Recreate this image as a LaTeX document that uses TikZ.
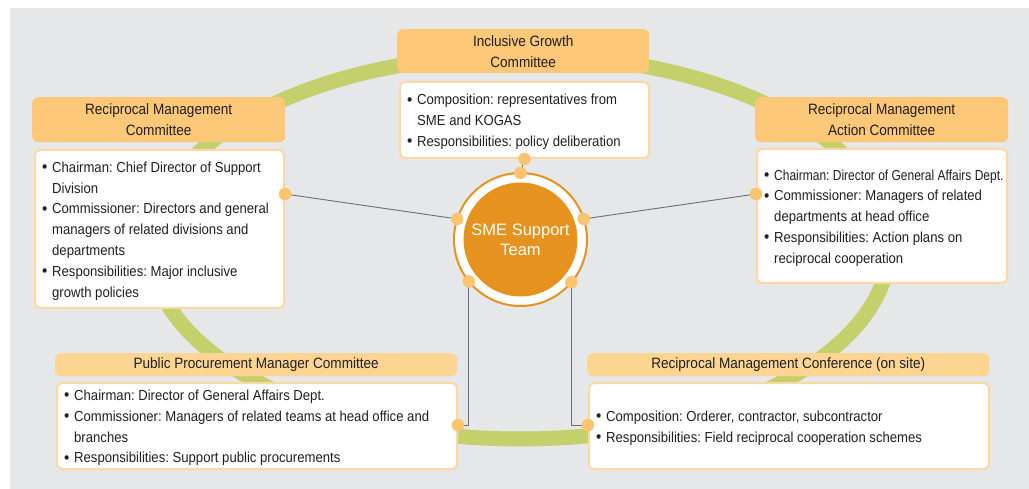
\documentclass[tikz,border=0pt]{standalone}
\usepackage{fontspec}
\usepackage{graphicx}
\setmainfont{Liberation Sans}[FakeStretch=0.905]
\newfontfamily\smefont{Liberation Sans}
\usetikzlibrary{backgrounds}
\definecolor{bggray}{HTML}{E6E7E8}
\definecolor{ringgreen}{HTML}{C4D06C}
\definecolor{hdrtop}{HTML}{FCC878}
\definecolor{hdrbot}{HTML}{FDD592}
\definecolor{bodyline}{HTML}{FDD8A0}
\definecolor{dotfill}{HTML}{FCC46F}
\definecolor{circo}{HTML}{E6921E}
\definecolor{connline}{HTML}{6D6E71}
\definecolor{txt}{HTML}{231F20}
\newcommand\bodyfont{\fontsize{14.5}{20.8}\selectfont\frenchspacing}
\newcommand\hdrfont{\fontsize{15}{21}\selectfont\frenchspacing}
\newcommand\bul{\makebox[10pt][l]{\raisebox{-0.3pt}{\scalebox{1.15}{\textbullet}}}}
\newcommand\ind{\hspace*{10pt}}
\newcommand\tight[1]{\scalebox{0.915}[1]{#1}}
\tikzset{
  hdr/.style={fill=hdrtop, rounded corners=6pt, inner sep=0pt, align=center,
    font=\hdrfont, text=txt, anchor=north west},
  hdrlight/.style={hdr, fill=hdrbot},
  bodybox/.style={draw=bodyline, fill=white, line width=2pt, rounded corners=5pt,
    inner sep=0pt, anchor=north west},
  btext/.style={anchor=west, xshift=8pt, yshift=-2pt, align=left, font=\bodyfont, text=txt, inner sep=0pt},
  dot/.style={circle, fill=dotfill, inner sep=0pt, minimum size=12.5pt},
  conn/.style={draw=connline, line width=0.9pt},
}
\begin{document}
\begin{tikzpicture}[x=1pt,y=-1pt]
\useasboundingbox (0,0) rectangle (1029,489);

% ---- boxes: top
\node[hdr, minimum width=252pt, minimum height=44pt] (th) at (397,29) {Inclusive Growth\\Committee};
\node[bodybox, minimum width=249pt, minimum height=76pt] (tb) at (399,81) {};
\node[btext] (tt) at (tb.west) {\bul Composition: representatives from\\\ind SME and KOGAS\\\bul Responsibilities: policy deliberation};

% ---- left
\node[hdr, minimum width=253pt, minimum height=45pt] (lh) at (32,97) {Reciprocal Management\\Committee};
\node[bodybox, minimum width=249pt, minimum height=158pt] (lb) at (34,149) {};
\node[btext] (lt) at (lb.west) {\bul Chairman: Chief Director of Support\\\ind Division\\\bul Commissioner: Directors and general\\\ind managers of related divisions and\\\ind departments\\\bul Responsibilities: Major inclusive\\\ind growth policies};

% ---- right
\node[hdr, minimum width=253pt, minimum height=45pt] (rh) at (755,97) {Reciprocal Management\\Action Committee};
\node[bodybox, minimum width=250pt, minimum height=134pt] (rb) at (756,148) {};
\node[btext] (rt) at (rb.west) {\bul \tight{Chairman: Director of General Affairs Dept.}\\\bul Commissioner: Managers of related\\\ind departments at head office\\\bul Responsibilities: Action plans on\\\ind reciprocal cooperation};

% ---- bottom left
\node[hdrlight, minimum width=402pt, minimum height=23pt] (blh) at (55,353) {Public Procurement Manager Committee};
\node[bodybox, minimum width=400pt, minimum height=86pt] (blb) at (56,382) {};
\node[btext] (blt) at (blb.west) {\bul Chairman: Director of General Affairs Dept.\\\bul Commissioner: Managers of related teams at head office and\\\ind branches\\\bul Responsibilities: Support public procurements};

% ---- bottom right
\node[hdrlight, minimum width=402pt, minimum height=23pt] (brh) at (587,353) {Reciprocal Management Conference (on site)};
\node[bodybox, minimum width=400pt, minimum height=86pt] (brb) at (588,382) {};
\node[btext] (brt) at (brb.west) {\bul Composition: Orderer, contractor, subcontractor\\\bul Responsibilities: Field reciprocal cooperation schemes};

% ---- centre
\node[circle, fill=white, draw=circo, line width=2pt, minimum size=133pt, inner sep=0pt, outer sep=0pt] (smeo) at (520.5,239.5) {};
\node[circle, fill=circo, minimum size=114pt, inner sep=0pt, text=white, align=center,
  font=\smefont\fontsize{16.5}{20}\selectfont] (sme) at (smeo) {SME Support\\Team};

% ---- dots
\node[dot] (d1) at (smeo.90) {};
\node[dot] (d2) at (smeo.162) {};
\node[dot] (d3) at (smeo.18) {};
\node[dot] (d4) at (smeo.219.5) {};
\node[dot] (d5) at (smeo.320.5) {};
\node[dot] (b1) at (tb.south) {};
\node[dot] (b2) at (lb.east |- 0,194) {};
\node[dot] (b3) at (rb.west |- 0,194) {};
\node[dot] (b4) at (blb.east |- 0,425) {};
\node[dot] (b5) at (brb.west |- 0,425) {};

\begin{pgfonlayer}{background}
  \fill[white] (0,0) rectangle (1029,489);
  \fill[bggray] (10,8) rectangle (1029,489);
  \draw[ringgreen, line width=15pt] (520,247) ellipse [x radius=369pt, y radius=192pt];
  \draw[conn] (b1) -- (d1);
  \draw[conn] (b2.center) -- (d2.center);
  \draw[conn] (b3.center) -- (d3.center);
  \draw[conn] (d4.center) |- (b4.center);
  \draw[conn] (d5.center) |- (b5.center);
\end{pgfonlayer}
\end{tikzpicture}
\end{document}
